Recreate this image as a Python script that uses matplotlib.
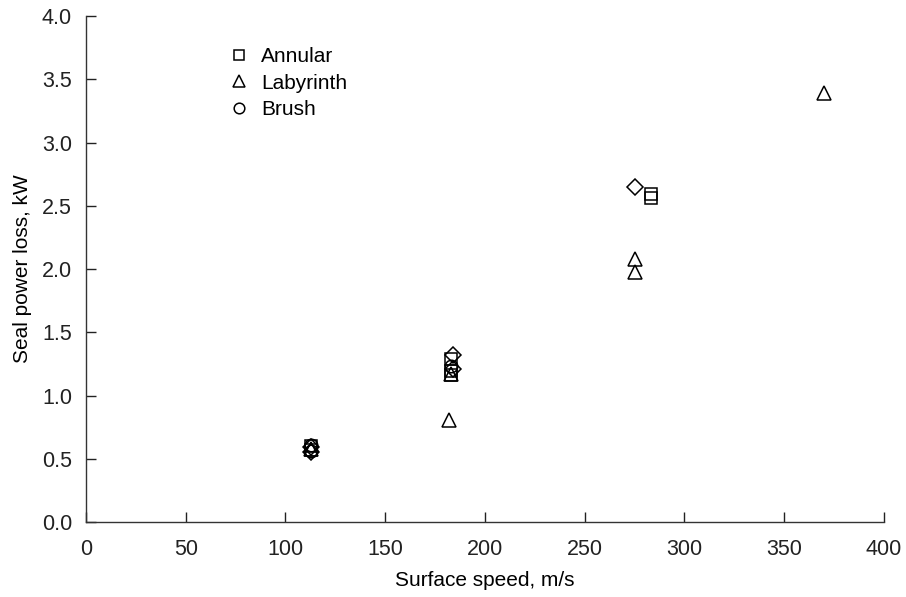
import matplotlib
matplotlib.use("Agg")
import matplotlib.pyplot as plt

plt.rcParams['font.family'] = ['Liberation Sans', 'DejaVu Sans']

# Seal power loss vs surface speed
annular_speed = [113, 113, 183, 183, 183, 283, 283]
annular_loss = [0.60, 0.57, 1.16, 1.19, 1.29, 2.56, 2.59]

labyrinth_speed = [113, 182, 183, 275, 275, 370]
labyrinth_loss = [0.58, 0.81, 1.17, 2.08, 1.98, 3.39]

brush_speed = [113, 113, 183]
brush_loss = [0.61, 0.56, 1.23]

other_speed = [113, 113, 184, 184, 275]
other_loss = [0.55, 0.59, 1.32, 1.21, 2.65]

xticks = [0, 50, 100, 150, 200, 250, 300, 350, 400]
yticks = [0.0, 0.5, 1.0, 1.5, 2.0, 2.5, 3.0, 3.5, 4.0]

fig = plt.figure(figsize=(9.06, 5.97), dpi=100)
ax = fig.add_axes([0.0949, 0.1256, 0.8808, 0.8476])

style = dict(linestyle='none', markerfacecolor='none', markeredgecolor='black',
             markeredgewidth=1.1)
ax.plot(annular_speed, annular_loss, marker='s', markersize=9, label='Annular', **style)
ax.plot(labyrinth_speed, labyrinth_loss, marker='^', markersize=10, label='Labyrinth', **style)
ax.plot(brush_speed, brush_loss, marker='o', markersize=9, label='Brush', **style)
ax.plot(other_speed, other_loss, marker='D', markersize=8, **style)

ax.set_xlim(0, 400)
ax.set_ylim(0, 4.0)
ax.set_xticks(xticks)
ax.set_yticks(yticks)
ax.set_yticklabels([f"{v:.1f}" for v in yticks])
ax.tick_params(direction='in', length=7, width=1, labelsize=15.5, colors='#222222')
ax.tick_params(axis='x', pad=12)
ax.tick_params(axis='y', pad=10)
ax.spines['top'].set_visible(False)
ax.spines['right'].set_visible(False)
for s in ('left', 'bottom'):
    ax.spines[s].set_linewidth(1)
    ax.spines[s].set_color('#333333')

ax.set_xlabel('Surface speed, m/s', fontsize=15, labelpad=8)
ax.set_ylabel('Seal power loss, kW', fontsize=15, labelpad=7)

leg = ax.legend(loc='upper left', bbox_to_anchor=(0.152, 0.975), frameon=False,
                fontsize=15, handletextpad=0.5, labelspacing=0.35, markerscale=0.85,
                handlelength=1.2)

fig.savefig('out.png', dpi=100)
